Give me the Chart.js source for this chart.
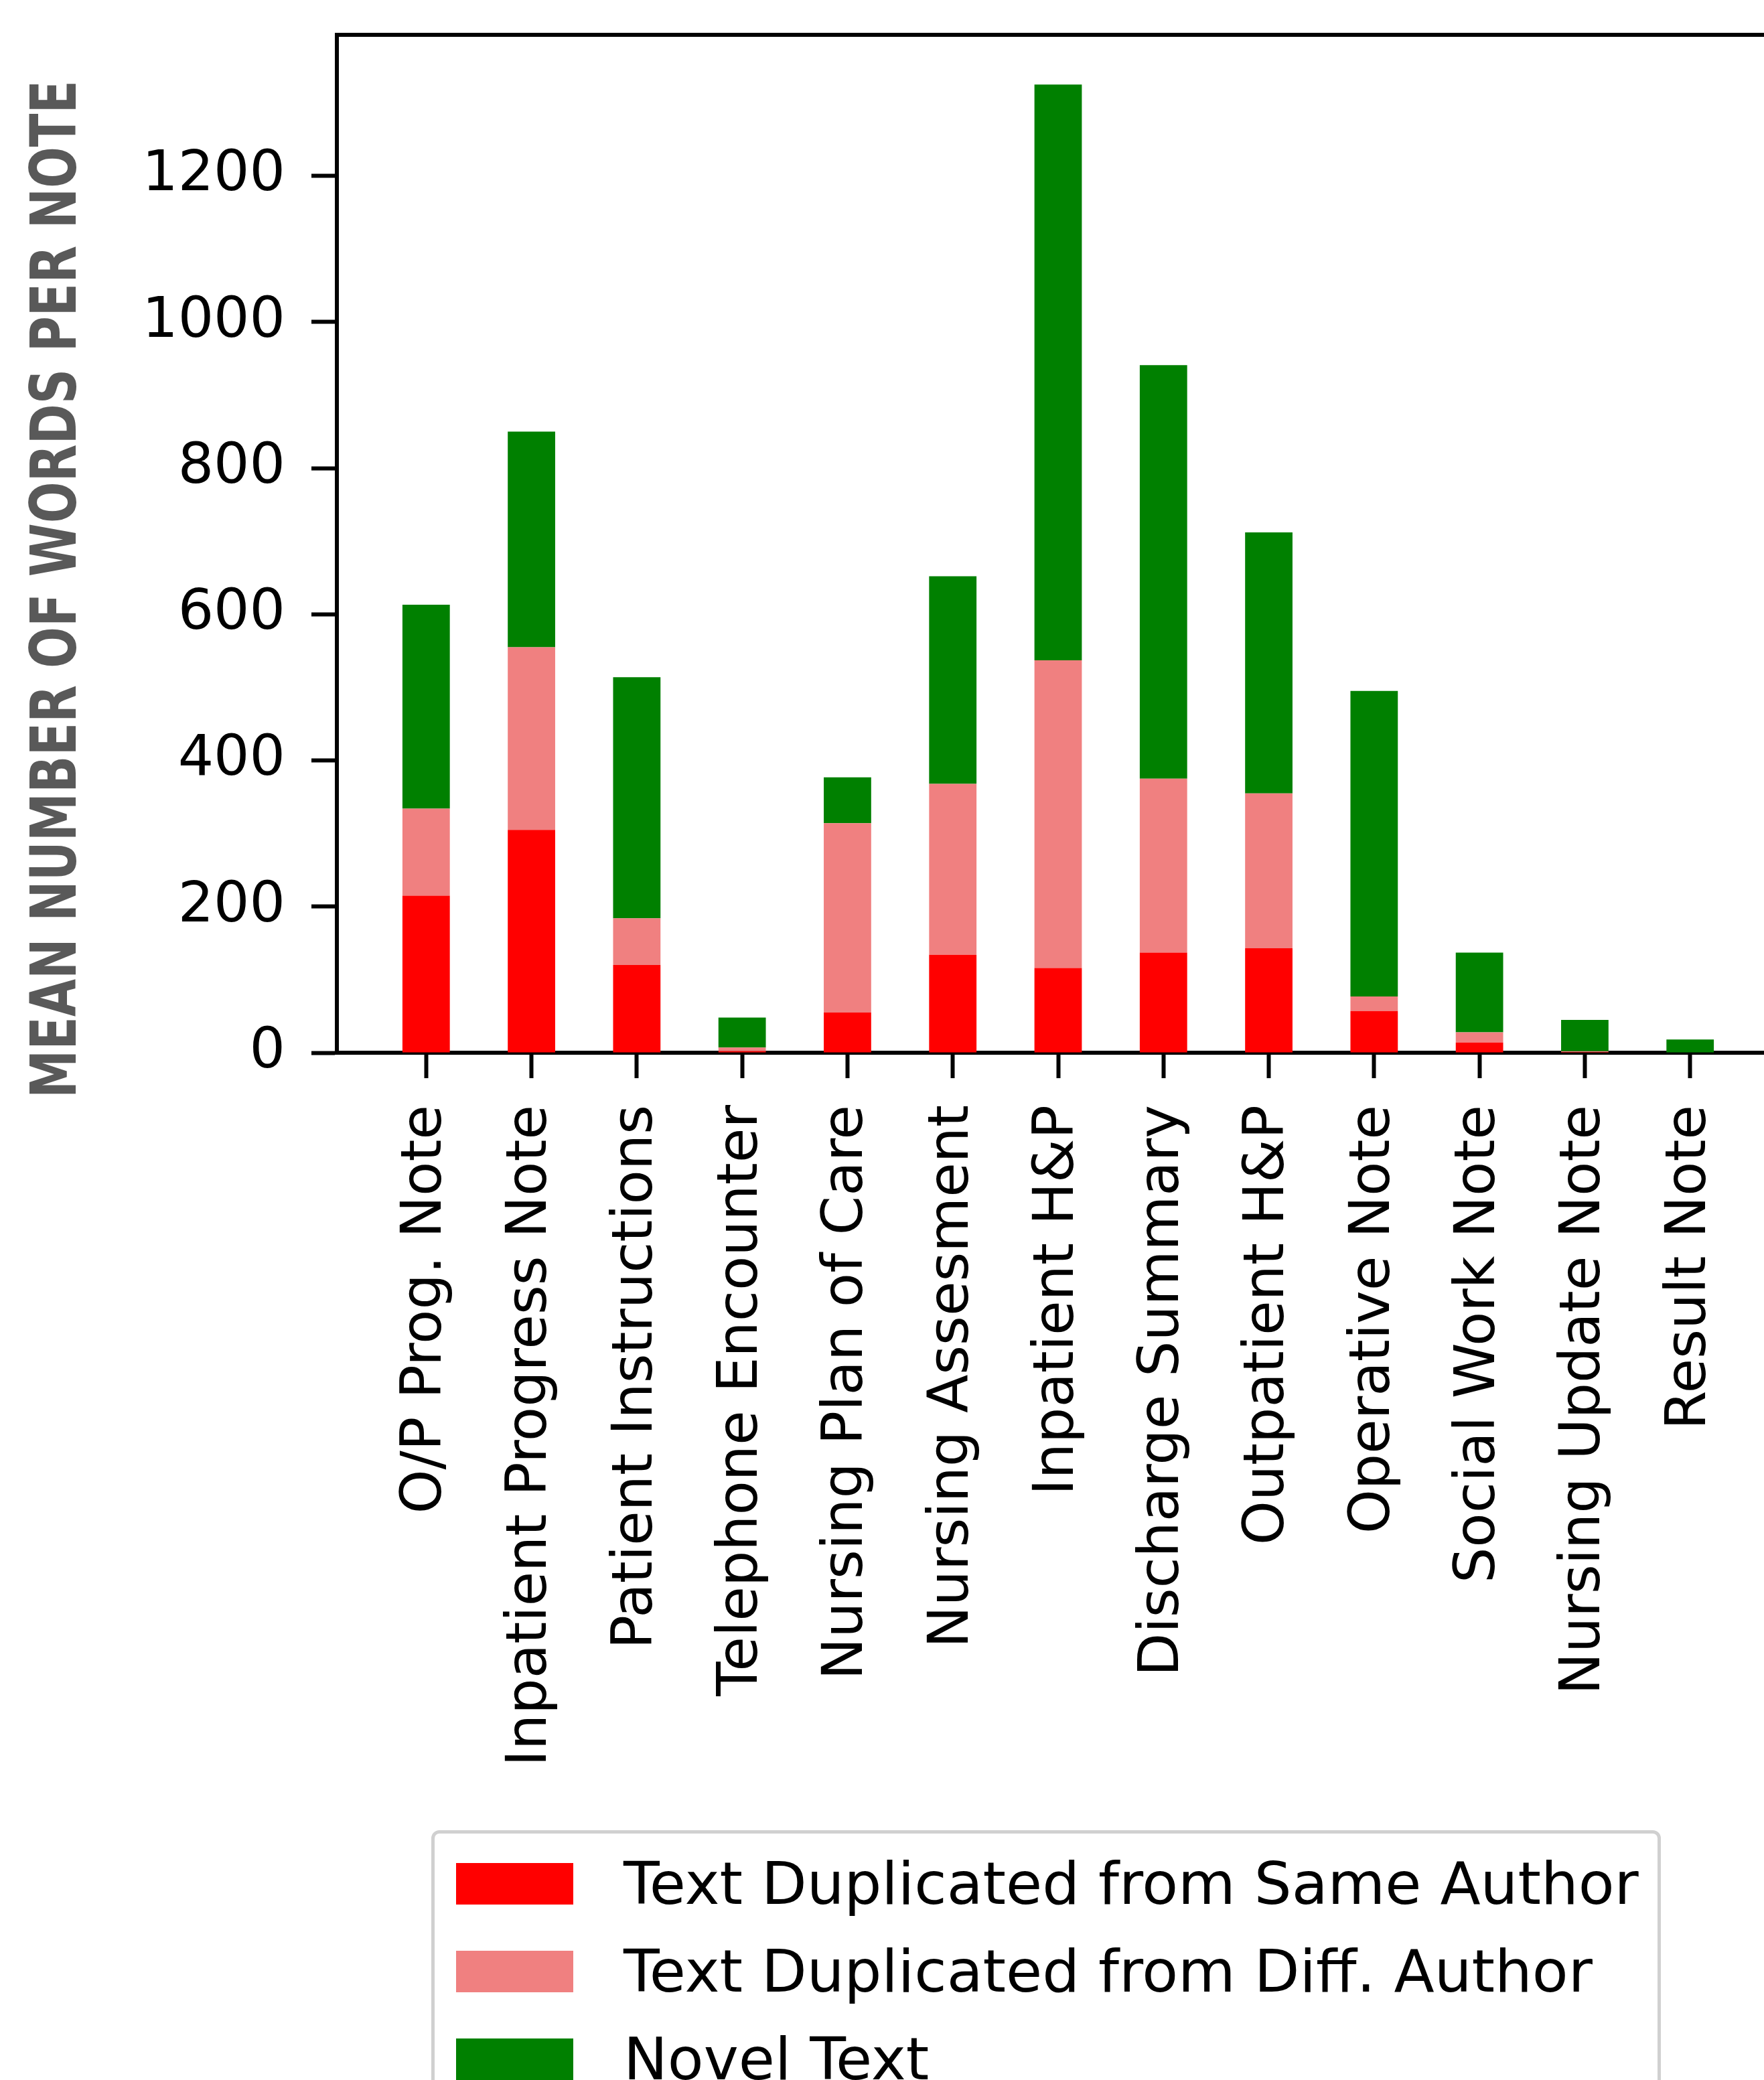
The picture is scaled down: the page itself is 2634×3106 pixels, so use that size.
<!DOCTYPE html>
<html>
<head>
<meta charset="utf-8">
<script src="https://cdn.jsdelivr.net/npm/chart.js@4.4.0/dist/chart.umd.min.js"></script>
<style>
  html, body { margin: 0; padding: 0; background: #fff; overflow: hidden; }
  #wrap { position: absolute; left: 0; top: 0; width: 2700px; height: 2700px; }
  #legend {
    position: absolute; left: 644px; top: 2733px; width: 1836px; height: 460px;
    border: 5px solid #d0d0d0; border-radius: 12px; box-sizing: border-box;
    font-family: "DejaVu Sans", sans-serif; font-size: 88px; color: #000;
    padding-top: 12px;
  }
  .row { position: relative; height: 131px; }
  .sw { position: absolute; left: 32px; top: 32px; width: 175px; height: 62px; }
  .lb { position: absolute; left: 282px; top: 10px; line-height: 105px; white-space: nowrap; }
</style>
</head>
<body>
<div id="wrap"><canvas id="myChart"></canvas></div>
<div id="legend"></div>
<script>
// note types along the x axis
var categories = ['O/P Prog. Note', 'Inpatient Progress Note', 'Patient Instructions', 'Telephone Encounter',
    'Nursing Plan of Care', 'Nursing Assesment', 'Inpatient H&P', 'Discharge Summary', 'Outpatient H&P',
    'Operative Note', 'Social Work Note', 'Nursing Update Note', 'Result Note'];

// mean words per note, stacked bottom -> top
var sameAuthor = [215, 305, 120, 2, 55, 134, 116, 137, 143, 57, 14, 1, 0];
var diffAuthor = [119, 250, 64, 5, 259, 234, 421, 238, 212, 20, 14, 1, 0.5];
var novelText  = [279, 295, 330, 41, 63, 284, 788, 566, 357, 418, 109, 43, 17.5];

var yTicks = [0, 200, 400, 600, 800, 1000, 1200];
var yMax = 1393;
var yTitle = 'MEAN NUMBER OF WORDS PER NOTE';

function points(arr) {
    return arr.map(function (v, i) { return { x: i, y: v }; });
}

// frame on top/right + rotated y title
var framePlugin = {
    id: 'frame',
    afterDraw: function (chart) {
        var ctx = chart.ctx;
        var a = chart.chartArea;
        ctx.save();
        ctx.strokeStyle = '#000';
        ctx.lineWidth = 6;
        ctx.beginPath();
        ctx.moveTo(a.left, a.top);
        ctx.lineTo(a.right, a.top);
        ctx.lineTo(a.right, a.bottom);
        ctx.stroke();

        ctx.translate(89, 880);
        ctx.rotate(-Math.PI / 2);
        ctx.font = 'bold 94px "Liberation Sans Narrow", "DejaVu Sans Condensed", sans-serif';
        ctx.fillStyle = '#595959';
        ctx.textAlign = 'center';
        ctx.textBaseline = 'middle';
        var w = ctx.measureText(yTitle).width;
        ctx.scale(1520 / w, 1);
        ctx.fillText(yTitle, 0, 0);
        ctx.restore();
    }
};

function noPad(scale) {
    scale.paddingTop = 0;
    scale.paddingBottom = 0;
    scale.paddingLeft = 0;
    scale.paddingRight = 0;
}

var ctx = document.getElementById('myChart').getContext('2d');
var myChart = new Chart(ctx, {
    type: 'bar',
    data: {
        datasets: [
            { label: 'Text Duplicated from Same Author', data: points(sameAuthor), backgroundColor: '#ff0000' },
            { label: 'Text Duplicated from Diff. Author', data: points(diffAuthor), backgroundColor: '#f08080' },
            { label: 'Novel Text', data: points(novelText), backgroundColor: '#008000' }
        ]
    },
    options: {
        responsive: true,
        maintainAspectRatio: false,
        animation: false,
        layout: { padding: { top: 52, right: 43, left: 0, bottom: 0 } },
        datasets: { bar: { categoryPercentage: 1, barPercentage: 0.45, borderWidth: 0 } },
        plugins: { legend: { display: false }, tooltip: { enabled: false } },
        scales: {
            x: {
                type: 'linear',
                stacked: true,
                offset: false,
                min: -0.8475,
                max: 12.8475,
                afterFit: function (scale) { scale.height = 2700 - 1572; noPad(scale); },
                afterBuildTicks: function (scale) {
                    scale.ticks = categories.map(function (c, i) { return { value: i }; });
                },
                grid: { offset: false, drawOnChartArea: false, drawTicks: true, tickLength: 38, tickWidth: 6, tickColor: '#000' },
                border: { display: true, color: '#000', width: 6 },
                ticks: {
                    autoSkip: false,
                    minRotation: 90,
                    maxRotation: 90,
                    padding: 40,
                    color: '#000',
                    font: { family: 'DejaVu Sans', size: 84 },
                    callback: function (value) { return categories[value]; }
                }
            },
            y: {
                stacked: true,
                min: 0,
                max: yMax,
                afterFit: function (scale) { scale.width = 503; noPad(scale); },
                afterBuildTicks: function (scale) {
                    scale.ticks = yTicks.map(function (v) { return { value: v }; });
                },
                grid: { drawOnChartArea: false, drawTicks: true, tickLength: 38, tickWidth: 6, tickColor: '#000' },
                border: { display: true, color: '#000', width: 6 },
                ticks: {
                    padding: 39,
                    color: '#000',
                    font: { family: 'DejaVu Sans', size: 84 },
                    callback: function (value) { return String(value); }
                }
            }
        }
    },
    plugins: [framePlugin]
});

// legend box built from the datasets
var legend = document.getElementById('legend');
myChart.data.datasets.forEach(function (ds) {
    var row = document.createElement('div');
    row.className = 'row';
    row.innerHTML = '<div class="sw" style="background:' + ds.backgroundColor + '"></div><div class="lb"></div>';
    row.querySelector('.lb').textContent = ds.label;
    legend.appendChild(row);
});
</script>
</body>
</html>
